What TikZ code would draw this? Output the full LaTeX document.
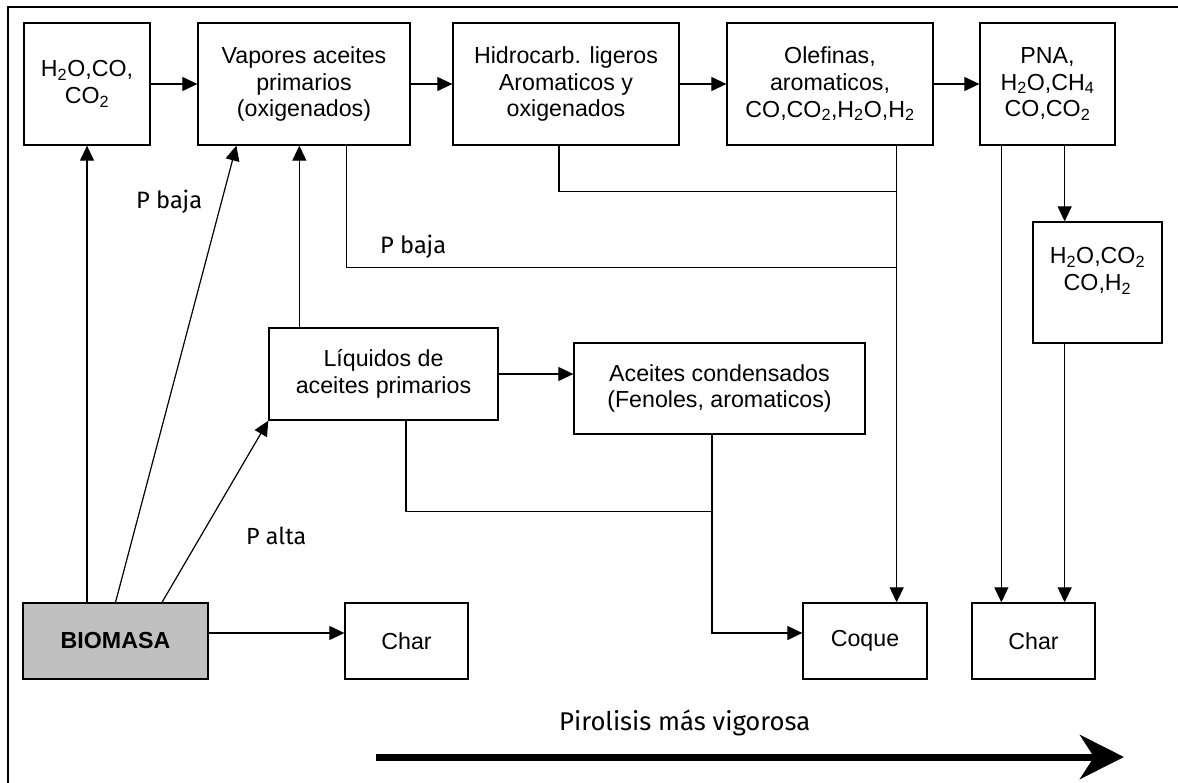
\documentclass[tikz,border=0pt]{standalone}
\usepackage{graphicx}
\usepackage{fontspec}
\setmainfont{Liberation Sans}
\newfontfamily\notefont{Fira Sans}
\usetikzlibrary{arrows.meta,calc}
\newcommand\chemsub[1]{\textsubscript{#1}}
\definecolor{biogray}{HTML}{C0C0C0}

\begin{document}
\begin{tikzpicture}[x=1pt,y=-1pt,
  box/.style={draw, line width=1.3pt, align=center, inner sep=0pt,
    font=\fontsize{23.2}{26.7}\selectfont},
  smallbox/.style={box, minimum height=76},
  conn/.style={line width=1.2pt},
  arr/.style={conn, -{Triangle[length=15pt,width=14pt]}},
  note/.style={anchor=base west, inner sep=0pt, font=\notefont}]
\useasboundingbox (0,0) rectangle (1178,782);

% outer frame (open towards the right and the bottom)
\begin{scope}
  \clip (0,0) rectangle (1178,782);
  \draw[line width=1.8pt] (8,800) -- (8,7) -- (1200,7);
\end{scope}

% upper row
\node[box, minimum width=126, minimum height=122] (b1) at (87,84)
  {H\chemsub{2}O,CO,\\CO\chemsub{2}};
\node[box, minimum width=212, minimum height=122] (b2) at (304,84)
  {Vapores aceites\\primarios\\(oxigenados)};
\node[box, minimum width=226, minimum height=122] (b3) at (566,84)
  {Hidrocarb. ligeros\\Aromaticos y\\oxigenados};
\node[box, minimum width=206, minimum height=122] (b4) at (830,84)
  {Olefinas,\\aromaticos,\\CO,CO\chemsub{2},H\chemsub{2}O,H\chemsub{2}};
\node[box, minimum width=135, minimum height=122] (b5) at (1047.5,84)
  {PNA,\\H\chemsub{2}O,CH\chemsub{4}\\CO,CO\chemsub{2}};
\node[box, minimum width=129, minimum height=121] (b6) at (1097.5,282.5)
  {H\chemsub{2}O,CO\chemsub{2}\\CO,H\chemsub{2}\\~};

% middle boxes
\node[box, minimum width=229, minimum height=92] (liq) at (383.5,374)
  {Líquidos de\\aceites primarios};
\node[box, minimum width=291, minimum height=91] (acei) at (719.5,388.5)
  {Aceites condensados\\(Fenoles, aromaticos)};

% bottom row
\node[smallbox, minimum width=185, fill=biogray] (bio) at (115.5,641) {\textbf{BIOMASA}};
\node[smallbox, minimum width=123] (char1) at (406.5,641) {Char};
\node[smallbox, minimum width=124] (coque) at (865,641) {Coque};
\node[smallbox, minimum width=123] (char2) at (1033.5,641) {Char};

% connectors from the biomass
\draw[arr] (bio.north -| b1.south) -- (b1.south);
\draw[arr] (bio.north) -- ($(b2.south west)+(39,0)$);
\draw[arr] ($(bio.north)+(46.5,0)$) -- (liq.south west);
\draw[arr] ($(bio.east)+(0,-8)$) -- ($(char1.west)+(0,-8)$);

% upper chain
\draw[arr] (b1.east) -- (b1.east -| b2.west);
\draw[arr] (b2.east) -- (b2.east -| b3.west);
\draw[arr] (b3.east) -- (b3.east -| b4.west);
\draw[arr] (b4.east) -- (b4.east -| b5.west);

% liquids up to the vapours and on to the condensed oils
\coordinate (lq) at ($(liq.north west)+(31,0)$);
\draw[arr] (lq) -- (lq |- b2.south);
\draw[arr] (liq.east) -- (liq.east -| acei.west);

% coke collector
\coordinate (c4) at ($(b4.south east)+(-37,0)$);
\draw[arr] (c4) -- (c4 |- coque.north);
\coordinate (c3) at ($(b3.south)+(-7,0)$);
\draw[conn] (c3) |- ($(c4)+(0,46)$);
\coordinate (c2) at ($(b2.south east)+(-64,0)$);
\draw[conn] (c2) |- ($(c4)+(0,122)$);
\coordinate (lb) at ($(liq.south)+(22.5,0)$);
\coordinate (ab) at ($(acei.south)+(-7.5,0)$);
\draw[conn] (lb) |- ($(ab)+(0,77)$);
\draw[arr] (ab) |- ($(coque.west)+(0,-8)$);

% gas branch and char
\coordinate (c5) at ($(b5.south west)+(22,0)$);
\draw[arr] (c5) -- (c5 |- char2.north);
\coordinate (c5b) at ($(b5.south east)+(-51,0)$);
\draw[arr] (c5b) -- (c5b |- b6.north);
\draw[arr] (c5b |- b6.south) -- (c5b |- char2.north);

% labels
\node[note] (pb1) at (136,208) {\resizebox{66pt}{!}{P baja}};
\node[note] (pb2) at (380,253) {\resizebox{66pt}{!}{P baja}};
\node[note] (pa) at (246,544) {\resizebox{60pt}{!}{P alta}};
\node[note] (pir) at (559,730) {\resizebox{251pt}{!}{Pirolisis más vigorosa}};

% intensity arrow
\coordinate (ps) at (376,757);
\coordinate (pe) at (1124,757);
\draw[line width=7pt, -{Stealth[length=44pt,width=44pt,inset=14pt]}] (ps) -- (pe);
\end{tikzpicture}
\end{document}
